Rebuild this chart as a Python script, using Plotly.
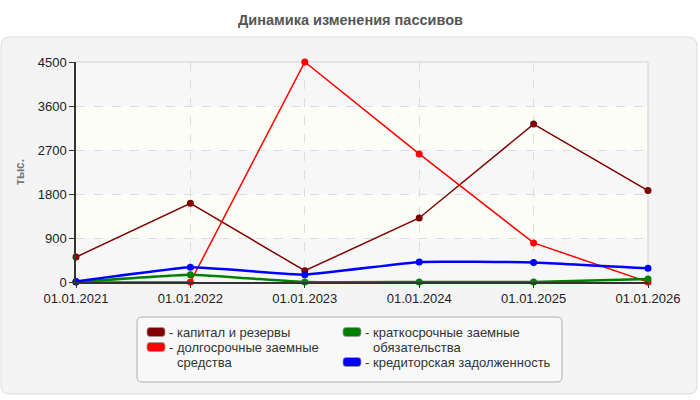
import plotly.graph_objects as go

dates = ["01.01.2021", "01.01.2022", "01.01.2023", "01.01.2024", "01.01.2025", "01.01.2026"]
kapital = [510, 1610, 230, 1310, 3230, 1870]
dolgosroch = [0, 0, 4500, 2620, 800, 0]
kratkosroch = [0, 150, 0, 0, 0, 60]
kreditor = [10, 300, 150, 410, 400, 280]

names = ["капитал и резервы", "долгосрочные заемные|средства",
         "краткосрочные заемные|обязательства", "кредиторская задолженность"]
colors = ["#800000", "#ff0000", "#008000", "#0000ff"]
series = [kapital, dolgosroch, kratkosroch, kreditor]
widths = [1.5, 1.5, 2.5, 2.5]
shapes_line = ["linear", "linear", "spline", "spline"]

W, H = 700, 400
L, R, T, B = 76, 648, 62, 282


def px(x):
    return (x - L) / (R - L)


def py(y):
    return (B - y) / (B - T)


def rrect(x0, y0, x1, y1, r):
    X0, X1 = px(x0), px(x1)
    Y0, Y1 = py(y0), py(y1)
    rx = r / (R - L)
    ry = r / (B - T)
    return (f"M {X0+rx},{Y0} L {X1-rx},{Y0} Q {X1},{Y0} {X1},{Y0-ry} "
            f"L {X1},{Y1+ry} Q {X1},{Y1} {X1-rx},{Y1} L {X0+rx},{Y1} "
            f"Q {X0},{Y1} {X0},{Y1+ry} L {X0},{Y0-ry} Q {X0},{Y0} {X0+rx},{Y0} Z")


fig = go.Figure()
for s, n, c, w, ls in zip(series, names, colors, widths, shapes_line):
    fig.add_trace(go.Scatter(
        x=dates, y=s, name=n.replace("|", " "), mode="lines+markers",
        line=dict(color=c, width=w, shape=ls, smoothing=0.3),
        marker=dict(color=c, size=7, symbol="circle"),
        cliponaxis=False, showlegend=False,
    ))

shapes = []
shapes.append(dict(type="path", xref="paper", yref="paper", path=rrect(1, 37, 697, 394, 9),
                   fillcolor="#f4f4f4", line=dict(color="#dddddd", width=1), layer="below"))
band_cols = ["#f7f7f7", "#fcfdf6", "#f7f7f7", "#fcfdf6", "#f7f7f7"]
for i, bc in enumerate(band_cols):
    shapes.append(dict(type="rect", xref="paper", yref="y", x0=0, x1=1,
                       y0=i * 900, y1=(i + 1) * 900, fillcolor=bc, line=dict(width=0), layer="below"))
shapes.append(dict(type="line", xref="paper", yref="paper", x0=0, x1=1, y0=1, y1=1,
                   line=dict(color="#dddddd", width=1.5), layer="below"))
shapes.append(dict(type="line", xref="paper", yref="paper", x0=1, x1=1, y0=0, y1=1,
                   line=dict(color="#dddddd", width=1.5), layer="below"))
shapes.append(dict(type="path", xref="paper", yref="paper", path=rrect(137, 317, 562, 382, 5),
                   fillcolor="#f8f8f8", line=dict(color="#b0b0b0", width=1)))

annotations = []
FONT = "Liberation Sans, Arial"
leg = [(147, 332, 0), (147, 347, 1), (343, 332, 2), (343, 362, 3)]
for (lx, ly, idx) in leg:
    shapes.append(dict(type="path", xref="paper", yref="paper",
                       path=rrect(lx, ly - 4.5, lx + 18, ly + 4.5, 3),
                       fillcolor=colors[idx], line=dict(color="#999999", width=0.8)))
    parts = names[idx].split("|")
    annotations.append(dict(xref="paper", yref="paper", x=px(lx + 20), y=py(ly),
                            xanchor="left", yanchor="middle", text="-", showarrow=False,
                            font=dict(family=FONT, size=13, color="#333333")))
    for k, p in enumerate(parts):
        annotations.append(dict(xref="paper", yref="paper", x=px(lx + 28), y=py(ly + 15 * k),
                                xanchor="left", yanchor="middle", text=p, showarrow=False,
                                font=dict(family=FONT, size=13, color="#333333")))

annotations.append(dict(xref="paper", yref="paper", x=px(350), y=py(20), text="<b>Динамика изменения пассивов</b>",
                        showarrow=False, xanchor="center", yanchor="middle",
                        font=dict(family=FONT, size=14.5, color="#555555")))
annotations.append(dict(xref="paper", yref="paper", x=px(20), y=py(172), text="<b>тыс.</b>", textangle=-90,
                        showarrow=False, xanchor="center", yanchor="middle",
                        font=dict(family=FONT, size=12, color="#777777")))

fig.update_layout(
    width=W, height=H,
    margin=dict(l=L, r=W - R, t=T, b=H - B, pad=0),
    paper_bgcolor="white", plot_bgcolor="rgba(0,0,0,0)",
    shapes=shapes, annotations=annotations,
    font=dict(family=FONT, size=13, color="#222222"),
    xaxis=dict(type="category", range=[0, 5], showgrid=True, gridcolor="#dddddd", griddash="dash",
               gridwidth=1, showline=True, linecolor="#333333", linewidth=1.5,
               ticks="outside", ticklen=4, tickcolor="#333333", zeroline=False,
               tickfont=dict(size=13, color="#222222")),
    yaxis=dict(range=[0, 4500], dtick=900, tick0=0, showgrid=True, gridcolor="#dddddd", griddash="dash",
               gridwidth=1, showline=True, linecolor="#333333", linewidth=1.5,
               ticks="outside", ticklen=5, tickcolor="#333333", zeroline=False,
               tickfont=dict(size=13, color="#222222")),
)

fig.write_html("out.html")
